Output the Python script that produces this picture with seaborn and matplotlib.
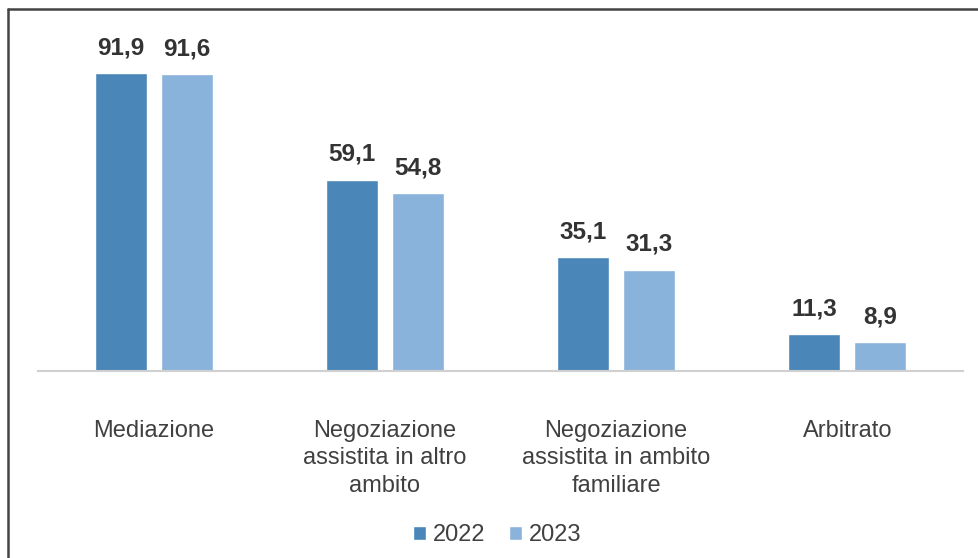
import matplotlib
matplotlib.use("Agg")
import matplotlib.pyplot as plt
import seaborn as sns
import pandas as pd
from matplotlib.lines import Line2D

categories = ["Mediazione", "Negoziazione\nassistita in altro\nambito",
              "Negoziazione\nassistita in ambito\nfamiliare", "Arbitrato"]
years = ["2022", "2023"]
values_2022 = [91.9, 59.1, 35.1, 11.3]
values_2023 = [91.6, 54.8, 31.3, 8.9]
colors = ["#4A86B8", "#8AB3DC"]

df = pd.DataFrame({
    "categoria": categories * 2,
    "anno": [years[0]] * 4 + [years[1]] * 4,
    "valore": values_2022 + values_2023,
})

sns.set_theme(style="white")
plt.rcParams["font.family"] = ["Liberation Sans", "DejaVu Sans"]

fig = plt.figure(figsize=(9.79, 5.58), dpi=100)
ax = fig.add_axes([38 / 979, 1 - 371 / 558, 925 / 979, 324 / 558])

sns.barplot(data=df, x="categoria", y="valore", hue="anno", palette=colors,
            width=0.57, gap=0.21, ax=ax, order=categories, hue_order=years,
            saturation=1, legend=True)

for cont in ax.containers:
    ax.bar_label(cont, labels=[f"{v:.1f}".replace(".", ",") for v in cont.datavalues],
                 padding=10, fontsize=17.5, fontweight="bold", color="#333333")

ax.set_xlim(-0.5, 3.5)
ax.set_ylim(0, 100)
ax.set_xlabel("")
ax.set_ylabel("")
ax.set_yticks([])
ax.tick_params(axis="x", length=0, pad=35, labelsize=17, labelcolor="#404040")
for lbl in ax.get_xticklabels():
    lbl.set_multialignment("center")
    lbl.set_linespacing(1.33)
for s in ["top", "right", "left"]:
    ax.spines[s].set_visible(False)
ax.spines["bottom"].set_color("#d0d0d0")
ax.spines["bottom"].set_linewidth(1.5)

handles, labels = ax.get_legend_handles_labels()
ax.legend_.remove()
fig.legend(handles, labels, loc="center", bbox_to_anchor=(497 / 979, 1 - 535 / 558),
           ncol=2, frameon=False, fontsize=17, labelcolor="#404040",
           handlelength=0.55, handleheight=0.55, handletextpad=0.3, columnspacing=1.0)

# outer border (top and left visible)
fig.add_artist(Line2D([8.5 / 979, 1.0], [1 - 8.5 / 558, 1 - 8.5 / 558],
                      transform=fig.transFigure, color="#444444", lw=1.8))
fig.add_artist(Line2D([8.5 / 979, 8.5 / 979], [0, 1 - 8.5 / 558],
                      transform=fig.transFigure, color="#444444", lw=1.8))

fig.savefig("out.png", dpi=100, facecolor="white")
